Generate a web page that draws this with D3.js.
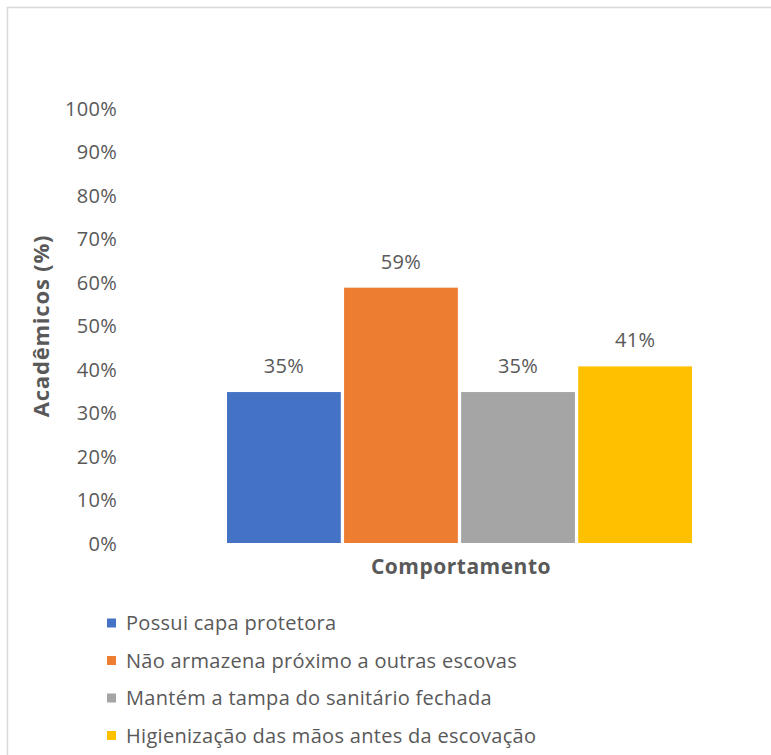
<!DOCTYPE html>
<html>
<head>
<meta charset="utf-8">
<script src="https://cdn.jsdelivr.net/npm/d3@7"></script>
<style>
  body { margin: 0; background: #fff; }
  text { font-family: "Open Sans", "Noto Sans", sans-serif; }
</style>
</head>
<body>
<svg id="drawing_region"></svg>
<script>
// values
const series = ["Possui capa protetora",
                "Não armazena próximo a outras escovas",
                "Mantém a tampa do sanitário fechada",
                "Higienização das mãos antes da escovação"];
const values = [0.347, 0.587, 0.347, 0.406];
const colors = ["#4472c4", "#ed7d31", "#a5a5a5", "#ffc000"];
const yticks = [0, 0.1, 0.2, 0.3, 0.4, 0.5, 0.6, 0.7, 0.8, 0.9, 1.0];
const category = "Comportamento";
const ytitle = "Acadêmicos (%)";

const width = 771, height = 755;
const svg = d3.select('#drawing_region')
    .attr('width', width)
    .attr('height', height);

// chart frame
svg.append('rect')
    .attr('x', 7.5).attr('y', 7.5)
    .attr('width', 800).attr('height', 800)
    .attr('fill', 'none')
    .attr('stroke', '#d9d9d9')
    .attr('stroke-width', 1.5);

const yscale = d3.scaleLinear()
    .domain([0, 1])
    .range([543, 108]);

const xscale = d3.scaleBand()
    .domain(series)
    .range([227, 692])
    .paddingInner(0.028);

const yaxis = d3.axisLeft(yscale)
    .tickValues(yticks)
    .tickFormat(d3.format(".0%"))
    .tickSize(0)
    .tickPadding(0);

const yaxis_group = svg.append('g')
    .attr('transform', 'translate(117, 0)')
    .call(yaxis);
yaxis_group.select('.domain').remove();
yaxis_group.selectAll('text')
    .attr('fill', '#595959')
    .style('font-size', '20px')
    .style('letter-spacing', '0.3px')
    .attr('dy', '0.36em');

svg.selectAll('rect.bar')
    .data(series)
    .enter()
    .append('rect')
    .attr('class', 'bar')
    .attr('x', d => xscale(d))
    .attr('y', (d, i) => yscale(values[i]))
    .attr('width', xscale.bandwidth())
    .attr('height', (d, i) => yscale(0) - yscale(values[i]))
    .attr('fill', (d, i) => colors[i]);

svg.selectAll('text.label')
    .data(series)
    .enter()
    .append('text')
    .attr('class', 'label')
    .attr('x', d => xscale(d) + xscale.bandwidth() / 2)
    .attr('y', (d, i) => yscale(values[i]) - 19)
    .attr('text-anchor', 'middle')
    .attr('fill', '#595959')
    .style('font-size', '20px')
    .style('letter-spacing', '0.3px')
    .text((d, i) => d3.format(".0%")(values[i]));

svg.append('text')
    .attr('x', 461)
    .attr('y', 574)
    .attr('text-anchor', 'middle')
    .attr('fill', '#595959')
    .style('font-size', '21px')
    .style('letter-spacing', '0.5px')
    .style('font-weight', 'bold')
    .text(category);

svg.append('text')
    .attr('transform', 'translate(49, 326) rotate(-90)')
    .attr('text-anchor', 'middle')
    .attr('fill', '#595959')
    .style('font-size', '22px')
    .style('letter-spacing', '0.8px')
    .style('font-weight', 'bold')
    .text(ytitle);

// legend
const legend = svg.selectAll('g.legend')
    .data(series)
    .enter()
    .append('g')
    .attr('class', 'legend')
    .attr('transform', (d, i) => `translate(107, ${623 + i * 37.5})`);

legend.append('rect')
    .attr('x', 0).attr('y', -4.5)
    .attr('width', 9).attr('height', 9)
    .attr('fill', (d, i) => colors[i]);

legend.append('text')
    .attr('x', 19)
    .attr('dy', '0.35em')
    .attr('fill', '#595959')
    .style('font-size', '20px')
    .style('letter-spacing', '0.3px')
    .text(d => d);
</script>
</body>
</html>
